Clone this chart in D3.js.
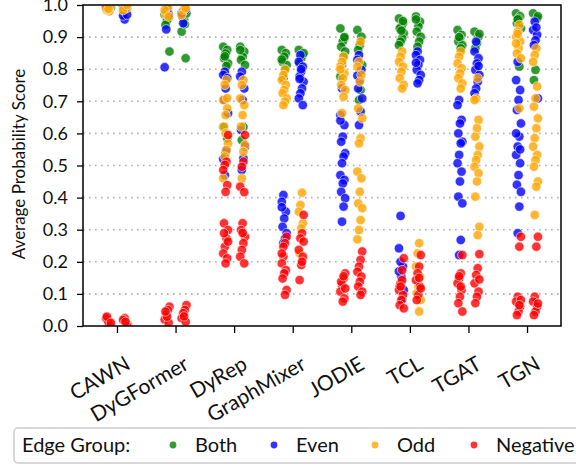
<!doctype html>
<html lang='en'>
<head>
<meta charset='UTF-8'>
<title>Average Probability Score by model</title>
<script src='https://cdnjs.cloudflare.com/ajax/libs/d3/7.8.5/d3.min.js'></script>
<style>
    body { margin: 0; background: #fff; }
    text { font-family: 'Lato', 'Open Sans', sans-serif; fill: #111; }
</style>
</head>
<body>
<div id='chart'></div>
<script>
    // models on the x axis
    const models = ['CAWN', 'DyGFormer', 'DyRep', 'GraphMixer', 'JODIE', 'TCL', 'TGAT', 'TGN'];
    const edgeGroups = ['Both', 'Even', 'Odd', 'Negative'];
    const groupColors = ['#008000', '#0000ff', '#ffa500', '#ff0000'];
    const yTicks = [0, 0.1, 0.2, 0.3, 0.4, 0.5, 0.6, 0.7, 0.8, 0.9, 1.0];

    // scores per model, left strip (A) and right strip (B)
    const bothA = [
        [0.995, 0.99, 0.998, 0.985, 0.992],
        [0.97, 0.96, 0.953, 0.938, 0.855, 0.985],
        [0.87, 0.86, 0.849, 0.834, 0.818, 0.81, 0.84, 0.62, 0.585, 0.54],
        [0.86, 0.85, 0.839, 0.823, 0.813, 0.80, 0.772, 0.83],
        [0.927, 0.896, 0.886, 0.87, 0.855, 0.839, 0.813, 0.777, 0.90],
        [0.958, 0.943, 0.933, 0.927, 0.912, 0.896, 0.886, 0.875, 0.95, 0.92],
        [0.922, 0.907, 0.896, 0.886, 0.875, 0.865, 0.90],
        [0.974, 0.965, 0.958, 0.943, 0.927, 0.808, 0.955]
    ];
    const bothB = [
        [0.995, 0.99, 0.998, 0.988],
        [0.917, 0.834, 0.955, 0.964, 0.974, 0.94],
        [0.87, 0.855, 0.839, 0.829, 0.813, 0.62, 0.579, 0.86],
        [0.86, 0.844, 0.834, 0.818, 0.85],
        [0.922, 0.901, 0.875, 0.86, 0.813, 0.735, 0.704],
        [0.964, 0.948, 0.933, 0.917, 0.901, 0.886, 0.87, 0.955],
        [0.917, 0.901, 0.881, 0.865, 0.91],
        [0.974, 0.958, 0.798, 0.766, 0.965]
    ];
    const evenA = [
        [0.99, 0.995],
        [0.924, 0.806, 0.97, 0.98],
        [0.792, 0.782, 0.772, 0.74, 0.704, 0.663, 0.548, 0.47, 0.52],
        [0.408, 0.387, 0.356, 0.335, 0.309, 0.289, 0.273, 0.258, 0.37],
        [0.74, 0.657, 0.626, 0.59, 0.574, 0.538, 0.528, 0.507, 0.47, 0.455, 0.444, 0.418, 0.398, 0.372, 0.325, 0.64],
        [0.343, 0.242, 0.185, 0.154, 0.123, 0.112, 0.081, 0.2, 0.17],
        [0.704, 0.688, 0.642, 0.631, 0.60, 0.574, 0.569, 0.533, 0.507, 0.481, 0.45, 0.403, 0.382, 0.268, 0.221],
        [0.823, 0.766, 0.735, 0.704, 0.673, 0.631, 0.59, 0.559, 0.533, 0.507, 0.47, 0.44, 0.418, 0.372, 0.289, 0.6, 0.55]
    ];
    const evenB = [
        [0.955, 0.967, 0.97, 0.99, 0.995],
        [0.943, 0.975, 0.985],
        [0.792, 0.777, 0.74, 0.704, 0.611, 0.559, 0.522, 0.486],
        [0.844, 0.823, 0.808, 0.792, 0.777, 0.761, 0.74, 0.725, 0.709, 0.688, 0.80, 0.77],
        [0.844, 0.829, 0.798, 0.766, 0.74, 0.709, 0.668, 0.626, 0.78],
        [0.855, 0.844, 0.829, 0.813, 0.798, 0.782, 0.766, 0.756, 0.82],
        [0.886, 0.855, 0.834, 0.818, 0.798, 0.782, 0.761, 0.74, 0.725, 0.81],
        [0.948, 0.922, 0.907, 0.89, 0.875, 0.709, 0.93]
    ];
    const oddA = [
        [0.98, 0.985, 0.99, 0.995, 0.988],
        [0.995, 0.97, 0.984, 0.964],
        [0.766, 0.751, 0.704, 0.678, 0.657, 0.621, 0.569, 0.548, 0.528, 0.46, 0.71, 0.6],
        [0.798, 0.782, 0.766, 0.751, 0.735, 0.725, 0.709, 0.699, 0.688],
        [0.839, 0.823, 0.808, 0.787, 0.772, 0.751, 0.735, 0.714, 0.663, 0.80],
        [0.855, 0.839, 0.823, 0.808, 0.792, 0.772, 0.751, 0.74],
        [0.855, 0.839, 0.818, 0.803, 0.787, 0.772, 0.756, 0.74],
        [0.938, 0.917, 0.901, 0.886, 0.865, 0.849, 0.834, 0.678, 0.91, 0.88]
    ];
    const oddB = [
        [0.99, 0.995, 0.984, 1.0],
        [0.995, 0.984, 0.969, 0.99],
        [0.766, 0.751, 0.709, 0.688, 0.657, 0.621, 0.564, 0.543, 0.46],
        [0.415, 0.377, 0.356, 0.32, 0.304, 0.226],
        [0.886, 0.823, 0.808, 0.782, 0.761, 0.678, 0.647, 0.585, 0.569, 0.481, 0.46, 0.418, 0.382, 0.367, 0.33, 0.299, 0.27],
        [0.258, 0.226, 0.185, 0.154, 0.123, 0.102, 0.081, 0.045],
        [0.772, 0.709, 0.704, 0.642, 0.616, 0.59, 0.559, 0.533, 0.517, 0.496, 0.476, 0.45, 0.403, 0.309, 0.283],
        [0.865, 0.844, 0.823, 0.746, 0.709, 0.683, 0.647, 0.616, 0.585, 0.559, 0.533, 0.517, 0.496, 0.45, 0.434, 0.346]
    ];
    const negA = [
        [0.003, 0.008, 0.019, 0.024, 0.0, 0.013, 0.029, 0.01],
        [0.06, 0.05, 0.035, 0.02, 0.01, 0.029, 0.045],
        [0.595, 0.512, 0.502, 0.486, 0.439, 0.418, 0.32, 0.299, 0.273, 0.247, 0.226, 0.211, 0.195, 0.289, 0.263],
        [0.278, 0.258, 0.216, 0.195, 0.174, 0.164, 0.148, 0.112, 0.097, 0.247, 0.226],
        [0.164, 0.148, 0.128, 0.107, 0.086, 0.076, 0.138, 0.117, 0.155],
        [0.211, 0.174, 0.133, 0.112, 0.097, 0.081, 0.065, 0.055, 0.143, 0.123],
        [0.221, 0.164, 0.148, 0.133, 0.112, 0.091, 0.071, 0.045, 0.123, 0.155],
        [0.278, 0.247, 0.091, 0.076, 0.06, 0.045, 0.034, 0.081, 0.065]
    ];
    const negB = [
        [0.003, 0.008, 0.024, 0.019, 0.0, 0.013],
        [0.065, 0.05, 0.04, 0.024, 0.013, 0.03],
        [0.595, 0.512, 0.496, 0.434, 0.417, 0.32, 0.299, 0.278, 0.258, 0.237, 0.216, 0.195, 0.29],
        [0.346, 0.289, 0.273, 0.237, 0.216, 0.19, 0.143, 0.263, 0.20],
        [0.232, 0.206, 0.185, 0.169, 0.154, 0.138, 0.123, 0.107, 0.097],
        [0.221, 0.185, 0.164, 0.143, 0.123, 0.097, 0.081, 0.117, 0.15],
        [0.224, 0.18, 0.159, 0.133, 0.107, 0.091, 0.071, 0.145],
        [0.278, 0.247, 0.091, 0.076, 0.06, 0.045, 0.034, 0.07]
    ];

    const SIZE = { width: 576, height: 467 };
    const MARGIN = { left: 83, top: 5, right: 15, bottom: 141 };

    function draw() {
        const svg = d3.select('#chart').append('svg')
            .attr('width', SIZE.width).attr('height', SIZE.height);
        const x0 = MARGIN.left, x1 = SIZE.width - MARGIN.right;
        const y0 = SIZE.height - MARGIN.bottom, y1 = MARGIN.top;

        const xScale = d3.scalePoint().domain(models).range([x0, x1]).padding(0.58);
        const yScale = d3.scaleLinear().domain([0, 1]).range([y0, y1]);

        // dotted grid
        svg.append('g').selectAll('line').data(yTicks.slice(1, -1)).join('line')
            .attr('x1', x0).attr('x2', x1)
            .attr('y1', d => yScale(d)).attr('y2', d => yScale(d))
            .attr('stroke', '#b0b0b0').attr('stroke-width', 1.6)
            .attr('stroke-dasharray', '1.6,4.4');

        svg.append('clipPath').attr('id', 'plot-clip').append('rect')
            .attr('x', x0).attr('y', y1).attr('width', x1 - x0).attr('height', y0 - y1);

        const strips = [[bothA, bothB], [evenA, evenB], [oddA, oddB], [negA, negB]];
        const points = [];
        strips.forEach((pair, g) => {
            pair.forEach((perModel, side) => {
                perModel.forEach((vals, m) => {
                    vals.forEach((v, i) => {
                        points.push({ model: models[m], side: side, value: v, group: g, k: i });
                    });
                });
            });
        });

        const dots = svg.append('g').attr('clip-path', 'url(#plot-clip)');
        dots.selectAll('circle').data(points).join('circle')
            .attr('cx', d => xScale(d.model) + (d.side === 0 ? -8.5 : 8.5) + ((d.k * 5 + d.group * 2) % 7 - 3) * 0.8)
            .attr('cy', d => yScale(d.value))
            .attr('r', 4.7)
            .attr('fill', d => groupColors[d.group])
            .attr('fill-opacity', 0.8)
            .attr('stroke', '#fff')
            .attr('stroke-opacity', 0.8)
            .attr('stroke-width', 0.7);

        // axes
        const yAxis = d3.axisLeft(yScale).tickValues(yTicks).tickFormat(d3.format('.1f'))
            .tickSize(6).tickPadding(9);
        const gy = svg.append('g').attr('transform', 'translate(' + x0 + ',0)').call(yAxis);
        gy.select('.domain').remove();
        gy.selectAll('line').attr('stroke', '#000').attr('stroke-width', 1.3);
        gy.selectAll('text').attr('font-size', 18).attr('font-family', 'Lato').attr('fill', '#111');

        const xAxis = d3.axisBottom(xScale).tickSize(7).tickFormat('');
        const gx = svg.append('g').attr('transform', 'translate(0,' + y0 + ')').call(xAxis);
        gx.select('.domain').remove();
        gx.selectAll('line').attr('stroke', '#000').attr('stroke-width', 1.3);

        // rotated category labels
        svg.append('g').selectAll('text').data(models).join('text')
            .attr('transform', d => 'translate(' + (xScale(d) + 7) + ',' + (y0 + 29) + ') rotate(-30)')
            .attr('text-anchor', 'end')
            .attr('dy', '0.72em')
            .attr('font-size', 21)
            .text(d => d);

        svg.append('rect').attr('x', x0).attr('y', y1).attr('width', x1 - x0).attr('height', y0 - y1)
            .attr('fill', 'none').attr('stroke', '#000').attr('stroke-width', 1.5);

        svg.append('text')
            .attr('transform', 'translate(25,164) rotate(-90)')
            .attr('text-anchor', 'middle')
            .attr('font-size', 17)
            .text('Average Probability Score');

        // legend
        const lg = svg.append('g');
        lg.append('rect').attr('x', 14).attr('y', 428).attr('width', 600).attr('height', 35)
            .attr('rx', 4).attr('fill', '#fff').attr('stroke', '#ccc').attr('stroke-width', 1.5);
        lg.append('text').attr('x', 22).attr('y', 452).attr('font-size', 20).text('Edge Group:');
        const legendX = [173, 274, 375, 474];
        edgeGroups.forEach((name, i) => {
            lg.append('circle').attr('cx', legendX[i]).attr('cy', 445).attr('r', 3.4)
                .attr('fill', groupColors[i]).attr('fill-opacity', 0.8);
            lg.append('text').attr('x', legendX[i] + 22).attr('y', 452).attr('font-size', 20).text(name);
        });
    }

    window.onload = function () { draw(); };
</script>
</body>
</html>
